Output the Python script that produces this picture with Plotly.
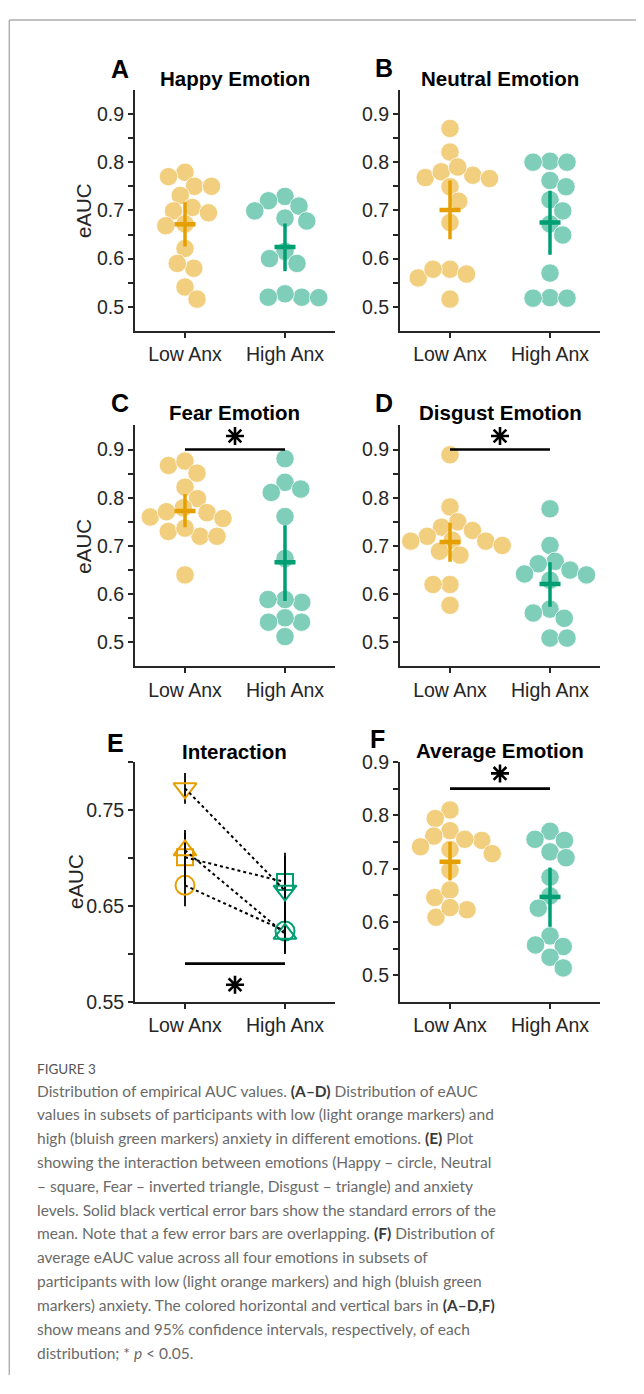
import plotly.graph_objects as go

# page body has an 8px margin: the figure starts at page (8, 8)
PAGE_OFF = 8
W, H = 636, 1378

# ---------------- data ----------------
categories = ["Low Anx", "High Anx"]
panel_letters = ["A", "B", "C", "D", "E", "F"]
panel_titles = ["Happy Emotion", "Neutral Emotion", "Fear Emotion",
                "Disgust Emotion", "Interaction", "Average Emotion"]
y_label = "eAUC"

happy_low = [0.779, 0.770, 0.750, 0.750, 0.731, 0.706, 0.695, 0.699, 0.668,
             0.672, 0.621, 0.580, 0.590, 0.541, 0.516]
happy_high = [0.729, 0.720, 0.699, 0.709, 0.678, 0.684, 0.615, 0.600, 0.590,
              0.520, 0.527, 0.519, 0.520]
neutral_low = [0.870, 0.821, 0.773, 0.768, 0.780, 0.766, 0.790, 0.749, 0.719,
               0.675, 0.560, 0.578, 0.578, 0.568, 0.516]
neutral_high = [0.802, 0.800, 0.800, 0.762, 0.749, 0.722, 0.699, 0.672, 0.649,
                0.570, 0.519, 0.518, 0.518]
fear_low = [0.867, 0.876, 0.851, 0.822, 0.798, 0.760, 0.769, 0.779, 0.771,
            0.757, 0.730, 0.720, 0.720, 0.737, 0.640]
fear_high = [0.881, 0.832, 0.818, 0.811, 0.761, 0.674, 0.583, 0.589, 0.589,
             0.542, 0.551, 0.542, 0.512]
disgust_low = [0.889, 0.781, 0.750, 0.739, 0.732, 0.720, 0.712, 0.710, 0.701,
               0.710, 0.689, 0.681, 0.620, 0.620, 0.577]
disgust_high = [0.777, 0.701, 0.668, 0.663, 0.650, 0.642, 0.629, 0.640, 0.569,
                0.550, 0.561, 0.509, 0.509]
average_low = [0.810, 0.794, 0.771, 0.753, 0.755, 0.761, 0.741, 0.736, 0.728,
               0.697, 0.646, 0.660, 0.609, 0.623, 0.627]
average_high = [0.770, 0.755, 0.753, 0.7315, 0.7205, 0.684, 0.649, 0.626,
                0.574, 0.557, 0.554, 0.534, 0.514]

# means and 95% CI  [low, high]
happy_mean = [0.6715, 0.624]
happy_ci_lo = [0.625, 0.574]
happy_ci_hi = [0.717, 0.673]
neutral_mean = [0.7007, 0.675]
neutral_ci_lo = [0.640, 0.608]
neutral_ci_hi = [0.762, 0.741]
fear_mean = [0.7725, 0.666]
fear_ci_lo = [0.739, 0.586]
fear_ci_hi = [0.808, 0.743]
disgust_mean = [0.708, 0.621]
disgust_ci_lo = [0.667, 0.574]
disgust_ci_hi = [0.748, 0.666]
average_mean = [0.713, 0.647]
average_ci_lo = [0.678, 0.591]
average_ci_hi = [0.750, 0.702]

# standard errors of the mean for panel E  [low, high]
happy_sem = [0.0217, 0.0225]
neutral_sem = [0.0284, 0.0305]
fear_sem = [0.016, 0.036]
disgust_sem = [0.018, 0.021]

# significance bars and stars
sig_bar_y = {"C": 0.90, "D": 0.90, "E": 0.59, "F": 0.85}
sig_star_y = {"C": 0.928, "D": 0.928, "E": 0.568, "F": 0.8785}

ticks_main = [0.5, 0.55, 0.6, 0.65, 0.7, 0.75, 0.8, 0.85, 0.9]
ticks_main_text = ["0.5", "", "0.6", "", "0.7", "", "0.8", "", "0.9"]
ticks_e = [0.55, 0.6, 0.65, 0.7, 0.75, 0.8]
ticks_e_text = ["0.55", "", "0.65", "", "0.75", ""]

caption_head = "FIGURE 3"
caption_lines = [
    "Distribution of empirical AUC values. <b>(A\u2013D)</b> Distribution of eAUC",
    "values in subsets of participants with low (light orange markers) and",
    "high (bluish green markers) anxiety in different emotions. <b>(E)</b> Plot",
    "showing the interaction between emotions (Happy \u2013 circle, Neutral",
    "\u2013 square, Fear \u2013 inverted triangle, Disgust \u2013 triangle) and anxiety",
    "levels. Solid black vertical error bars show the standard errors of the",
    "mean. Note that a few error bars are overlapping. <b>(F)</b> Distribution of",
    "average eAUC value across all four emotions in subsets of",
    "participants with low (light orange markers) and high (bluish green",
    "markers) anxiety. The colored horizontal and vertical bars in <b>(A\u2013D,F)</b>",
    "show means and 95% confidence intervals, respectively, of each",
    "distribution; * <i>p</i> &lt; 0.05.",
]

# ---------------- styles / layout ----------------
ORANGE = "#E69F00"
GREEN = "#009E73"
ORANGE_FILL = "rgba(230,159,0,0.5)"
GREEN_FILL = "rgba(0,158,115,0.5)"
AX = "#262626"
FONT = "Arial, Liberation Sans, Helvetica, sans-serif"
CAPFONT = "Lato, Open Sans, sans-serif"


def px(x):
    return (x - PAGE_OFF) / W


def py(y):
    return 1 - (y - PAGE_OFF) / H


# plot boxes in page pixels: x0, x1, y0(top), y1(bottom)
boxes = {
    "A": (135, 335, 80, 325), "B": (400, 600, 80, 325),
    "C": (135, 335, 421, 666), "D": (400, 600, 421, 666),
    "E": (135, 335, 763, 1007), "F": (400, 600, 763, 1007),
}
yranges = {"A": [0.45, 0.95], "B": [0.45, 0.95], "C": [0.45, 0.95],
           "D": [0.45, 0.95], "E": [0.55, 0.80], "F": [0.45, 0.90]}
xrange_ = [0.5, 2.5]

fig = go.Figure()


def axis_names(i):
    return ("x" if i == 0 else f"x{i+1}"), ("y" if i == 0 else f"y{i+1}")


def swarm(vals, xppu, yppu, d=17.0, step=0.25):
    order = sorted(range(len(vals)), key=lambda i: -vals[i])
    placed = []
    offs = [0.0] * len(vals)
    for n, i in enumerate(order):
        y = vals[i] * yppu
        k = 0
        while True:
            if k == 0:
                cands = [0.0]
            elif n % 2 == 0:
                cands = [k * step, -k * step]
            else:
                cands = [-k * step, k * step]
            found = None
            for c in cands:
                if all((c - qx) ** 2 + (y - qy) ** 2 >= d * d - 1e-9 for qx, qy in placed):
                    found = c
                    break
            if found is not None:
                break
            k += 1
        placed.append((found, y))
        offs[i] = found / xppu
    return offs


dist_panels = {
    "A": (happy_low, happy_high, happy_mean, happy_ci_lo, happy_ci_hi),
    "B": (neutral_low, neutral_high, neutral_mean, neutral_ci_lo, neutral_ci_hi),
    "C": (fear_low, fear_high, fear_mean, fear_ci_lo, fear_ci_hi),
    "D": (disgust_low, disgust_high, disgust_mean, disgust_ci_lo, disgust_ci_hi),
    "F": (average_low, average_high, average_mean, average_ci_lo, average_ci_hi),
}

layout_axes = {}
annotations = []

for i, p in enumerate(panel_letters):
    xa, ya = axis_names(i)
    x0, x1, y0, y1 = boxes[p]
    yr = yranges[p]
    xppu = (x1 - x0) / (xrange_[1] - xrange_[0])
    yppu = (y1 - y0) / (yr[1] - yr[0])

    if p in dist_panels:
        lo, hi, mean, cilo, cihi = dist_panels[p]
        for g, (vals, fill) in enumerate([(lo, ORANGE_FILL), (hi, GREEN_FILL)]):
            c = g + 1
            offs = swarm(vals, xppu, yppu)
            fig.add_trace(go.Scatter(
                x=[c + o for o in offs], y=vals, mode="markers", xaxis=xa, yaxis=ya,
                marker=dict(size=18.5, color=fill,
                            line=dict(color="rgba(255,255,255,0.85)", width=1)),
                showlegend=False, hoverinfo="skip"))
        for g, solid in enumerate([ORANGE, GREEN]):
            c = g + 1
            fig.add_trace(go.Scatter(
                x=[c, c], y=[cilo[g], cihi[g]], mode="lines", xaxis=xa, yaxis=ya,
                line=dict(color=solid, width=3.5), showlegend=False, hoverinfo="skip"))
            fig.add_trace(go.Scatter(
                x=[c - 0.105, c + 0.105], y=[mean[g], mean[g]], mode="lines",
                xaxis=xa, yaxis=ya, line=dict(color=solid, width=4.5),
                showlegend=False, hoverinfo="skip"))
    else:
        emo = [("circle-open", happy_mean, happy_sem, 19),
               ("square-open", neutral_mean, neutral_sem, 16),
               ("triangle-down-open", fear_mean, fear_sem, 20),
               ("triangle-up-open", disgust_mean, disgust_sem, 20)]
        for sym, m, s, sz in emo:
            fig.add_trace(go.Scatter(
                x=[1, 2], y=m, mode="markers", xaxis=xa, yaxis=ya,
                marker=dict(symbol=sym, size=sz, color=[ORANGE, GREEN],
                            line=dict(width=2)),
                error_y=dict(type="data", array=s, color="black",
                             thickness=1.8, width=0),
                showlegend=False, hoverinfo="skip"))
        for sym, m, s, sz in emo:
            fig.add_trace(go.Scatter(
                x=[1, 2], y=m, mode="lines", xaxis=xa, yaxis=ya,
                line=dict(color="black", width=2, dash="dot"),
                showlegend=False, hoverinfo="skip"))

    if p in sig_bar_y:
        fig.add_trace(go.Scatter(
            x=[1, 2], y=[sig_bar_y[p]] * 2, mode="lines", xaxis=xa, yaxis=ya,
            line=dict(color="black", width=2.6), showlegend=False, hoverinfo="skip"))
        fig.add_trace(go.Scatter(
            x=[1.5], y=[sig_star_y[p]], mode="markers", xaxis=xa, yaxis=ya,
            marker=dict(symbol="asterisk-open", size=15, color="black",
                        line=dict(color="black", width=2.6)),
            showlegend=False, hoverinfo="skip"))

    if p == "E":
        tv, tt = ticks_e, ticks_e_text
    else:
        tv, tt = ticks_main, ticks_main_text

    xkey = "xaxis" if i == 0 else f"xaxis{i+1}"
    ykey = "yaxis" if i == 0 else f"yaxis{i+1}"
    layout_axes[xkey] = dict(
        domain=[px(x0), px(x1)], range=xrange_, anchor=ya,
        tickvals=[1, 2], ticktext=categories, ticks="outside", ticklen=5,
        tickwidth=1.5, tickcolor=AX, showline=True, linecolor=AX, linewidth=2,
        showgrid=False, zeroline=False,
        tickfont=dict(family=FONT, size=19.5, color=AX))
    layout_axes[ykey] = dict(
        domain=[py(y1), py(y0)], range=yr, anchor=xa,
        tickvals=tv, ticktext=tt, ticks="outside", ticklen=5,
        tickwidth=1.5, tickcolor=AX, showline=True, linecolor=AX, linewidth=2,
        showgrid=False, zeroline=False,
        tickfont=dict(family=FONT, size=19.5, color=AX))

    title_y = {"A": 68, "B": 68, "C": 408, "D": 408, "E": 752, "F": 751}[p]
    annotations.append(dict(
        x=px((x0 + x1) / 2), y=py(title_y), xref="paper", yref="paper",
        text=f"<b>{panel_titles[i]}</b>", showarrow=False, xanchor="center",
        yanchor="middle", font=dict(family=FONT, size=20.5, color="black")))
    lx, ly = {"A": (120.5, 58.5), "B": (384, 58), "C": (120, 398),
              "D": (384, 398), "E": (115, 744), "F": (377, 740)}[p]
    annotations.append(dict(
        x=px(lx), y=py(ly), xref="paper", yref="paper",
        text=f"<b>{p}</b>", showarrow=False, xanchor="center", yanchor="middle",
        font=dict(family=FONT, size=25, color="black")))
    if p in ("A", "C", "E"):
        ex = 76 if p == "E" else 83.7
        annotations.append(dict(
            x=px(ex), y=py((y0 + y1) / 2), xref="paper", yref="paper",
            text=y_label, showarrow=False, textangle=-90, xanchor="center",
            yanchor="middle", font=dict(family=FONT, size=20.5, color=AX)))

# caption
annotations.append(dict(
    x=px(35), y=py(1075), xref="paper", yref="paper", text=caption_head,
    showarrow=False, xanchor="left", yanchor="middle",
    font=dict(family=CAPFONT, size=13.5, color="#555555")))
for k, line in enumerate(caption_lines):
    line = line.replace("<b>", "<b><span style='color:#3a3a3a'>").replace("</b>", "</span></b>")
    annotations.append(dict(
        x=px(35), y=py(1097 + 24.2 * k), xref="paper", yref="paper",
        text=line, showarrow=False, xanchor="left", yanchor="middle", align="left",
        font=dict(family=CAPFONT, size=15.5, color="#6a6a6a")))

shapes = [
    dict(type="line", xref="paper", yref="paper", x0=px(9.3), x1=1.0,
         y0=py(9), y1=py(9), line=dict(color="#adadad", width=1.4)),
    dict(type="line", xref="paper", yref="paper", x0=px(9.3), x1=px(9.3),
         y0=0, y1=py(9), line=dict(color="#adadad", width=1.4)),
]

fig.update_layout(
    width=W, height=H, autosize=False,
    margin=dict(l=0, r=0, t=0, b=0),
    paper_bgcolor="white", plot_bgcolor="rgba(0,0,0,0)",
    showlegend=False, annotations=annotations, shapes=shapes,
    **layout_axes)

fig.write_html("out.html")
